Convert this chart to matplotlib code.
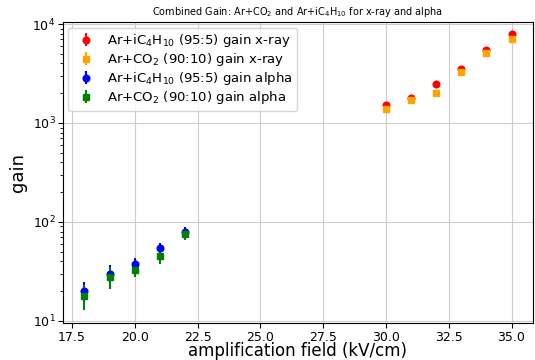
import matplotlib
matplotlib.use("Agg")
import matplotlib.pyplot as plt

field_alpha = [18, 19, 20, 21, 22]
gain_iso_alpha = [20, 30, 38, 55, 79]
err_iso_alpha = [5, 7, 5.5, 7, 9]
gain_co2_alpha = [18, 28, 33, 45, 75]
err_co2_alpha = [5, 7, 5.5, 7.5, 9]

field_xray = [30, 31, 32, 33, 34, 35]
gain_iso_xray = [1520, 1800, 2500, 3530, 5500, 7980]
err_iso_xray = [30, 35, 50, 70, 110, 160]
gain_co2_xray = [1400, 1700, 2000, 3270, 5060, 7000]
err_co2_xray = [28, 34, 40, 65, 100, 140]

fig = plt.figure(figsize=(5.35, 3.6), dpi=100)
ax = fig.add_axes([0.118, 0.103, 0.878, 0.835])

ax.errorbar(field_xray, gain_iso_xray, yerr=err_iso_xray, fmt='o', color='red',
            ms=4.8, label='Ar+iC$_4$H$_{10}$ (95:5) gain x-ray')
ax.errorbar(field_xray, gain_co2_xray, yerr=err_co2_xray, fmt='s', color='orange',
            ms=4.8, label='Ar+CO$_2$ (90:10) gain x-ray')
ax.errorbar(field_alpha, gain_iso_alpha, yerr=err_iso_alpha, fmt='o', color='blue',
            ms=4.8, label='Ar+iC$_4$H$_{10}$ (95:5) gain alpha')
ax.errorbar(field_alpha, gain_co2_alpha, yerr=err_co2_alpha, fmt='s', color='green',
            ms=4.8, label='Ar+CO$_2$ (90:10) gain alpha')

ax.set_yscale('log')
ax.set_ylim(9.55, 10400)
ax.grid(True, which='major', color='#cccccc', linewidth=0.8)
ax.tick_params(labelsize=9, pad=2)
ax.set_xlabel('amplification field (kV/cm)', fontsize=12, labelpad=-1)
ax.set_ylabel('gain', fontsize=13, labelpad=4)
ax.set_title('Combined Gain: Ar+CO$_2$ and Ar+iC$_4$H$_{10}$ for x-ray and alpha', fontsize=7, pad=5)
ax.legend(loc='upper left', fontsize=9.5, handletextpad=0.6, borderpad=0.35,
          labelspacing=0.15, borderaxespad=0.4)
fig.savefig('out.png', dpi=100)
